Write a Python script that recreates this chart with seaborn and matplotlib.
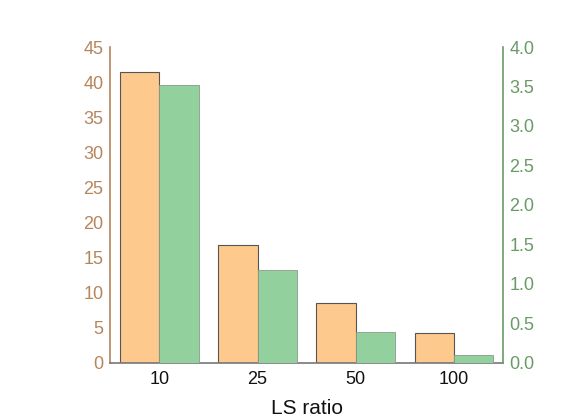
import numpy as np
import pandas as pd
import seaborn as sns
import matplotlib
matplotlib.use("Agg")
import matplotlib.pyplot as plt

categories = ["10", "25", "50", "100"]
left_values = [41.5, 16.8, 8.5, 4.3]
right_values = [3.52, 1.18, 0.39, 0.10]
left_ticks = [0, 5, 10, 15, 20, 25, 30, 35, 40, 45]
right_ticks = [0.0, 0.5, 1.0, 1.5, 2.0, 2.5, 3.0, 3.5, 4.0]

sns.set_theme(style="white")
plt.rcParams['font.family'] = ['Liberation Sans', 'DejaVu Sans']

orange = "#fec98c"
green = "#92d09d"
brown = "#b5855c"
dgreen = "#6a9a66"

n = len(categories)
df_left = pd.DataFrame({"cat": categories * 2,
                        "series": ["A"] * n + ["B"] * n,
                        "val": left_values + [np.nan] * n})
df_right = pd.DataFrame({"cat": categories * 2,
                         "series": ["A"] * n + ["B"] * n,
                         "val": [np.nan] * n + right_values})

fig = plt.figure(figsize=(5.71, 4.2), dpi=100)
ax = fig.add_axes([0.193, 0.136, 0.688, 0.752])
ax2 = ax.twinx()

sns.barplot(data=df_left, x="cat", y="val", hue="series", order=categories,
            hue_order=["A", "B"], palette=[orange, green], errorbar=None,
            width=0.8, ax=ax, legend=False, edgecolor="#555555", linewidth=0.8,
            saturation=1)
sns.barplot(data=df_right, x="cat", y="val", hue="series", order=categories,
            hue_order=["A", "B"], palette=[orange, green], errorbar=None,
            width=0.8, ax=ax2, legend=False, edgecolor="#8a9a8a", linewidth=0.6,
            saturation=1)

ax.set_xlim(-0.5, 3.5)
ax.set_ylim(0, 45)
ax2.set_ylim(0, 4.0)
ax.set_yticks(left_ticks)
ax2.set_yticks(right_ticks)
ax2.set_yticklabels([f"{t:.1f}" for t in right_ticks])

ax.set_xlabel("LS ratio", fontsize=15, color="#111111", labelpad=8)
ax.set_ylabel("")
ax2.set_ylabel("")

for a in (ax, ax2):
    a.spines["top"].set_visible(False)
ax.spines["right"].set_visible(False)
ax.spines["left"].set_color(brown)
ax.spines["left"].set_linewidth(1.2)
ax2.spines["left"].set_visible(False)
ax2.spines["right"].set_color(dgreen)
ax2.spines["right"].set_linewidth(1.2)
ax2.spines["bottom"].set_visible(False)
ax.spines["bottom"].set_color("#777777")
ax.spines["bottom"].set_linewidth(1.2)

ax.tick_params(axis="y", length=0, pad=5, labelsize=13, labelcolor=brown)
ax2.tick_params(axis="y", length=0, pad=4.5, labelsize=13, labelcolor=dgreen)
ax.tick_params(axis="x", length=0, pad=6, labelsize=13, labelcolor="#111111")

fig.savefig("out.png", dpi=100)
